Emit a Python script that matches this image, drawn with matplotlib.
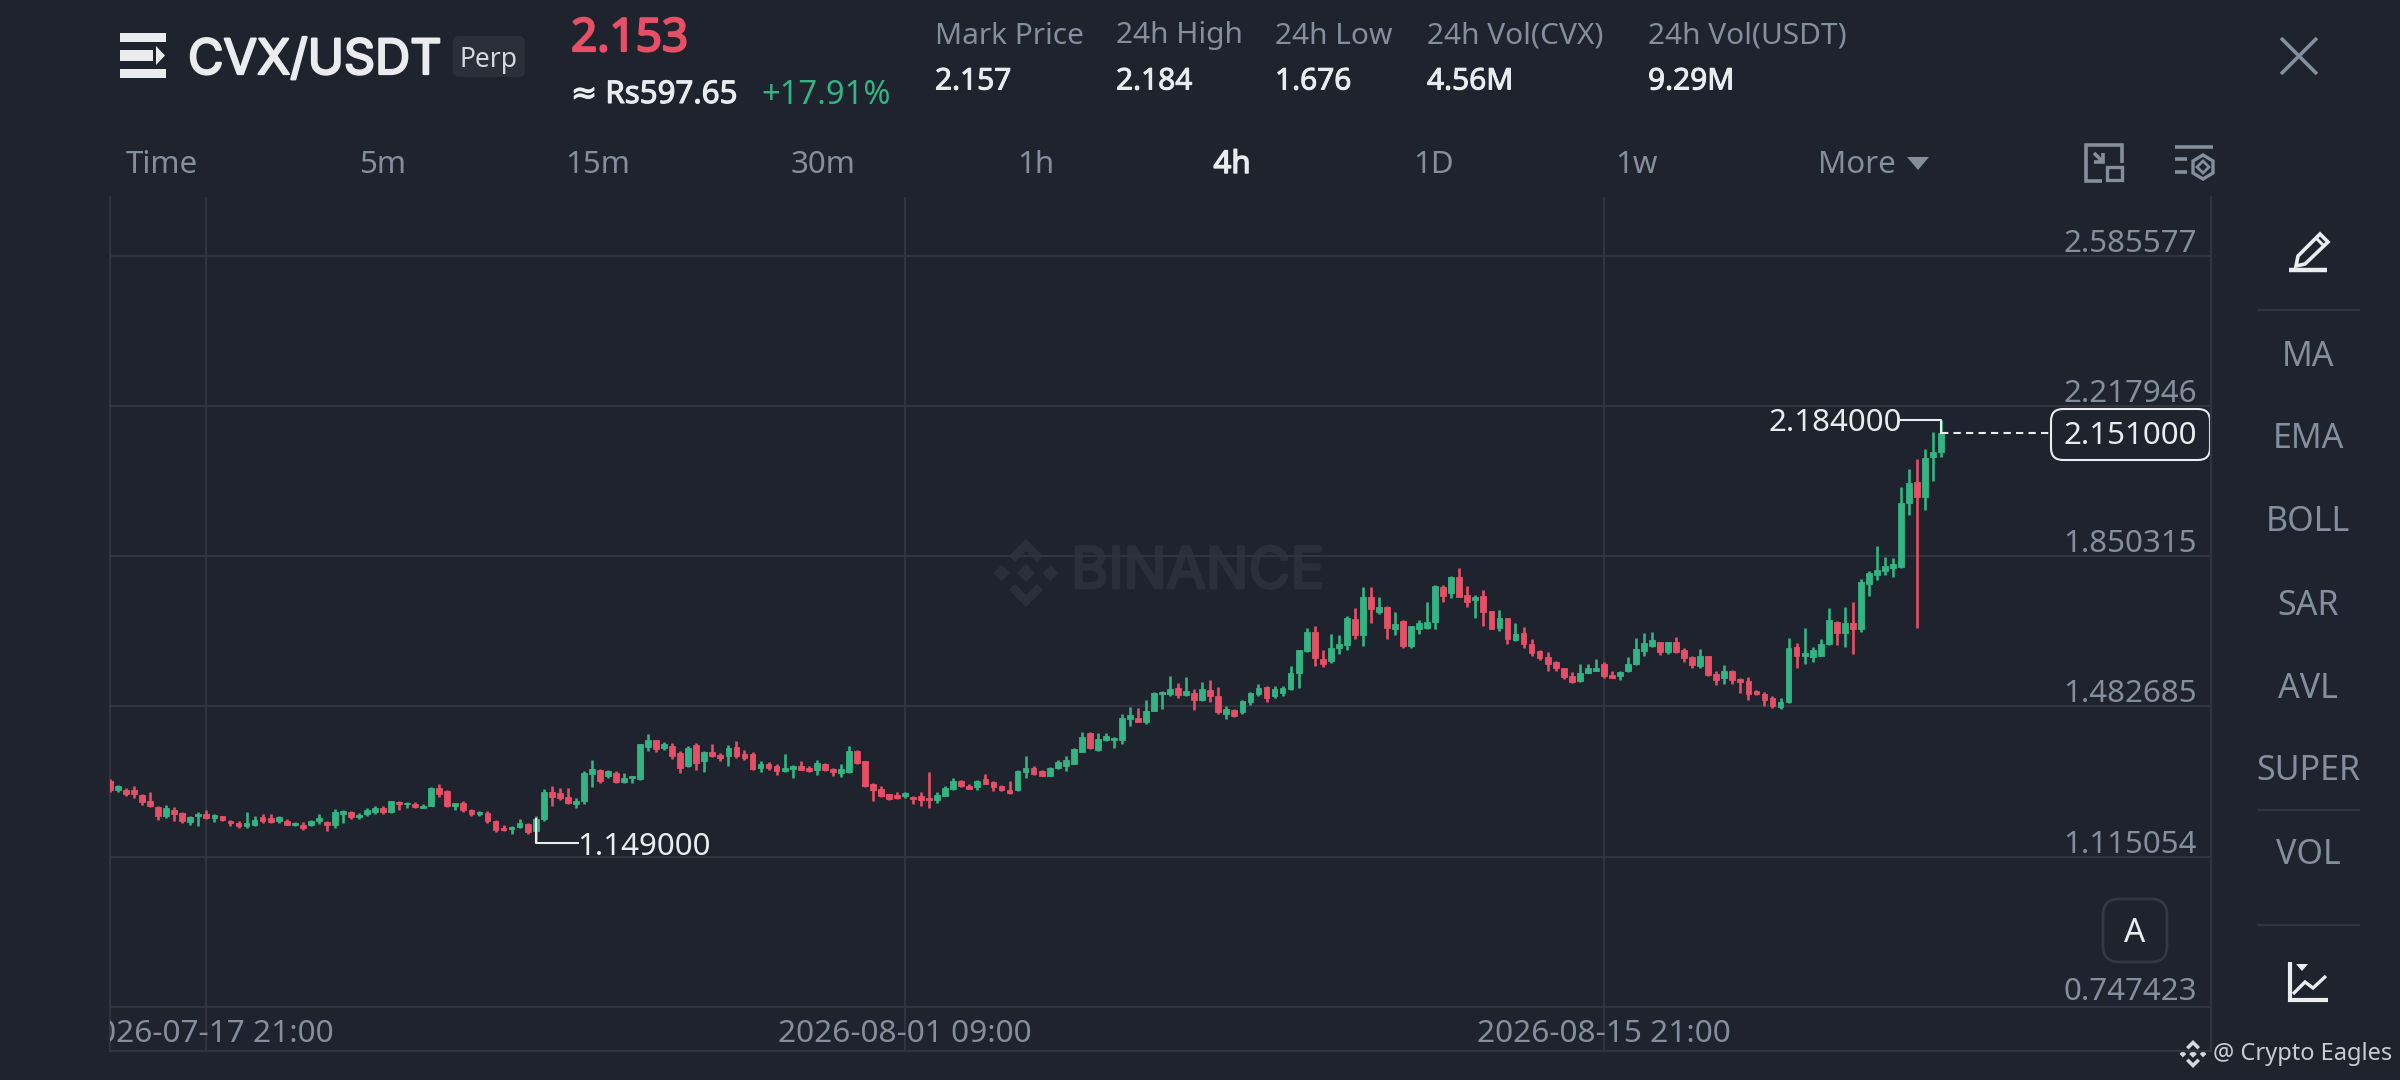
import numpy as np
import matplotlib
matplotlib.use("Agg")
import matplotlib.pyplot as plt
import matplotlib.patheffects as pe
from matplotlib.patches import Rectangle, Polygon, FancyBboxPatch

plt.rcParams['font.family'] = ['Noto Sans', 'DejaVu Sans']

# 4h candles
opens = [1.301,1.278,1.278,1.278,1.266,1.252,1.236,1.213,1.229,1.221,
         1.199,1.213,1.220,1.210,1.213,1.203,1.198,1.189,1.193,1.211,
         1.210,1.203,1.203,1.193,1.191,1.192,1.202,1.200,1.192,1.220,
         1.224,1.211,1.218,1.224,1.234,1.224,1.249,1.243,1.244,1.234,
         1.239,1.283,1.275,1.239,1.246,1.229,1.218,1.221,1.202,1.184,
         1.182,1.187,1.195,1.177,1.207,1.272,1.270,1.261,1.243,1.251,
         1.316,1.327,1.311,1.319,1.298,1.306,1.305,1.383,1.399,1.380,
         1.386,1.368,1.336,1.388,1.350,1.372,1.363,1.362,1.383,1.367,
         1.367,1.331,1.342,1.336,1.324,1.329,1.337,1.331,1.326,1.342,
         1.329,1.319,1.321,1.373,1.349,1.293,1.280,1.267,1.265,1.262,
         1.260,1.262,1.259,1.254,1.264,1.280,1.300,1.288,1.285,1.305,
         1.298,1.287,1.278,1.277,1.321,1.331,1.324,1.311,1.331,1.337,
         1.342,1.372,1.417,1.376,1.399,1.401,1.401,1.452,1.453,1.445,
         1.471,1.512,1.512,1.528,1.510,1.515,1.499,1.522,1.509,1.465,
         1.473,1.468,1.492,1.514,1.530,1.507,1.515,1.524,1.564,1.618,
         1.664,1.599,1.594,1.625,1.633,1.697,1.656,1.751,1.713,1.726,
         1.671,1.692,1.630,1.672,1.675,1.690,1.775,1.759,1.800,1.754,
         1.742,1.752,1.715,1.674,1.700,1.644,1.661,1.636,1.618,1.604,
         1.590,1.577,1.558,1.545,1.564,1.569,1.586,1.559,1.556,1.568,
         1.586,1.618,1.630,1.640,1.615,1.640,1.620,1.604,1.582,1.605,
         1.561,1.551,1.568,1.550,1.545,1.519,1.514,1.502,1.481,1.492,
         1.628,1.605,1.604,1.607,1.635,1.690,1.661,1.687,1.671,1.783,
         1.805,1.813,1.821,1.824,1.981,2.032,1.994,2.092,2.104]
highs = [1.305,1.289,1.283,1.287,1.269,1.274,1.238,1.240,1.236,1.224,
         1.215,1.225,1.229,1.218,1.215,1.205,1.202,1.225,1.213,1.218,
         1.218,1.215,1.208,1.199,1.200,1.205,1.220,1.203,1.232,1.229,
         1.226,1.221,1.233,1.238,1.238,1.252,1.252,1.249,1.249,1.243,
         1.285,1.293,1.278,1.247,1.252,1.232,1.226,1.226,1.205,1.192,
         1.189,1.207,1.198,1.213,1.280,1.287,1.283,1.283,1.259,1.324,
         1.352,1.330,1.327,1.324,1.319,1.313,1.391,1.416,1.401,1.395,
         1.394,1.373,1.385,1.393,1.373,1.390,1.368,1.388,1.398,1.375,
         1.370,1.350,1.347,1.341,1.367,1.339,1.350,1.336,1.352,1.345,
         1.331,1.342,1.386,1.375,1.350,1.296,1.288,1.269,1.274,1.272,
         1.262,1.272,1.321,1.272,1.288,1.308,1.303,1.292,1.303,1.316,
         1.301,1.290,1.301,1.326,1.362,1.337,1.327,1.334,1.352,1.360,
         1.381,1.421,1.421,1.417,1.417,1.407,1.465,1.481,1.478,1.497,
         1.517,1.519,1.556,1.540,1.555,1.525,1.541,1.546,1.530,1.483,
         1.476,1.497,1.517,1.537,1.533,1.532,1.532,1.582,1.621,1.674,
         1.679,1.621,1.659,1.656,1.703,1.724,1.775,1.775,1.749,1.728,
         1.713,1.695,1.680,1.695,1.739,1.780,1.780,1.801,1.821,1.778,
         1.754,1.767,1.716,1.718,1.700,1.687,1.676,1.648,1.620,1.615,
         1.594,1.577,1.566,1.586,1.587,1.599,1.592,1.568,1.569,1.604,
         1.649,1.661,1.664,1.641,1.641,1.653,1.625,1.605,1.622,1.605,
         1.568,1.584,1.571,1.553,1.555,1.523,1.517,1.507,1.504,1.649,
         1.638,1.675,1.628,1.648,1.723,1.692,1.725,1.739,1.795,1.813,
         1.876,1.849,1.845,2.019,2.063,2.089,2.112,2.154,2.184]
lows = [1.273,1.274,1.262,1.259,1.241,1.236,1.205,1.210,1.203,1.198,
        1.193,1.190,1.207,1.200,1.202,1.189,1.185,1.185,1.190,1.198,
        1.198,1.198,1.192,1.189,1.180,1.189,1.195,1.177,1.184,1.197,
        1.207,1.207,1.215,1.220,1.220,1.221,1.229,1.234,1.234,1.233,
        1.238,1.261,1.236,1.228,1.225,1.215,1.215,1.198,1.174,1.177,
        1.171,1.185,1.169,1.149,1.202,1.238,1.254,1.243,1.234,1.243,
        1.285,1.295,1.308,1.295,1.296,1.295,1.303,1.373,1.371,1.375,
        1.354,1.319,1.334,1.327,1.321,1.359,1.350,1.336,1.355,1.352,
        1.326,1.323,1.327,1.314,1.323,1.308,1.326,1.323,1.314,1.324,
        1.313,1.309,1.319,1.342,1.285,1.252,1.260,1.254,1.257,1.259,
        1.243,1.239,1.234,1.246,1.262,1.278,1.285,1.280,1.278,1.292,
        1.275,1.275,1.269,1.275,1.308,1.314,1.311,1.311,1.329,1.324,
        1.341,1.370,1.378,1.373,1.398,1.380,1.391,1.435,1.445,1.440,
        1.470,1.476,1.509,1.502,1.507,1.474,1.496,1.494,1.465,1.452,
        1.457,1.465,1.486,1.509,1.492,1.504,1.507,1.522,1.528,1.615,
        1.581,1.579,1.589,1.610,1.620,1.648,1.631,1.687,1.708,1.648,
        1.657,1.626,1.625,1.659,1.672,1.671,1.739,1.747,1.749,1.726,
        1.698,1.679,1.671,1.667,1.636,1.643,1.626,1.607,1.595,1.568,
        1.568,1.550,1.540,1.543,1.563,1.568,1.553,1.551,1.548,1.566,
        1.584,1.605,1.628,1.609,1.610,1.613,1.592,1.577,1.577,1.556,
        1.535,1.538,1.537,1.515,1.497,1.510,1.484,1.479,1.476,1.491,
        1.577,1.586,1.592,1.605,1.633,1.633,1.628,1.610,1.664,1.752,
        1.791,1.803,1.800,1.821,1.952,1.674,1.962,2.035,2.094]
closes = [1.278,1.287,1.269,1.267,1.248,1.238,1.213,1.234,1.218,1.202,
          1.211,1.220,1.210,1.216,1.205,1.197,1.189,1.197,1.205,1.202,
          1.200,1.211,1.193,1.198,1.184,1.202,1.210,1.193,1.224,1.227,
          1.211,1.216,1.228,1.234,1.223,1.251,1.243,1.247,1.236,1.239,
          1.282,1.269,1.239,1.246,1.229,1.218,1.225,1.203,1.180,1.179,
          1.187,1.197,1.175,1.207,1.272,1.261,1.259,1.247,1.251,1.319,
          1.329,1.301,1.324,1.298,1.308,1.311,1.390,1.399,1.379,1.391,
          1.360,1.332,1.381,1.344,1.371,1.362,1.355,1.380,1.360,1.355,
          1.329,1.342,1.331,1.324,1.332,1.336,1.327,1.324,1.344,1.327,
          1.321,1.329,1.373,1.345,1.288,1.277,1.264,1.256,1.259,1.270,
          1.256,1.254,1.254,1.265,1.283,1.300,1.288,1.280,1.301,1.293,
          1.285,1.277,1.270,1.324,1.331,1.318,1.313,1.332,1.347,1.352,
          1.377,1.408,1.380,1.403,1.411,1.406,1.453,1.461,1.445,1.471,
          1.515,1.517,1.524,1.510,1.520,1.499,1.524,1.509,1.468,1.476,
          1.460,1.496,1.515,1.528,1.504,1.525,1.527,1.564,1.620,1.664,
          1.602,1.586,1.626,1.636,1.700,1.656,1.751,1.721,1.726,1.674,
          1.684,1.630,1.679,1.687,1.690,1.777,1.752,1.800,1.751,1.737,
          1.749,1.713,1.672,1.700,1.648,1.659,1.635,1.613,1.602,1.587,
          1.576,1.555,1.543,1.564,1.576,1.577,1.558,1.553,1.566,1.586,
          1.623,1.638,1.644,1.615,1.640,1.615,1.600,1.584,1.605,1.559,
          1.546,1.569,1.548,1.541,1.512,1.512,1.499,1.484,1.492,1.625,
          1.605,1.613,1.620,1.635,1.693,1.662,1.687,1.672,1.787,1.808,
          1.816,1.826,1.832,1.981,2.030,1.996,2.091,2.104,2.151]

y_ticks = [2.585577, 2.217946, 1.850315, 1.482685, 1.115054, 0.747423]
x_tick_idx = [12, 99, 186]
x_tick_labels = ['2026-07-17 21:00', '2026-08-01 09:00', '2026-08-15 21:00']
high_price, high_idx = 2.184, 228
low_price, low_idx = 1.149, 53
last_price = 2.151

timeframes = ['Time', '5m', '15m', '30m', '1h', '4h', '1D', '1w']
timeframe_x = [162, 383, 598, 823, 1036, 1232, 1434, 1636]
stat_names = ['Mark Price', '24h High', '24h Low', '24h Vol(CVX)', '24h Vol(USDT)']
stat_values = ['2.157', '2.184', '1.676', '4.56M', '9.29M']
stat_x = [935, 1116, 1275, 1427, 1648]
side_names = ['MA', 'EMA', 'BOLL', 'SAR', 'AVL', 'SUPER', 'VOL']
side_y = [354, 436, 519, 603, 686, 768, 852]

BG = '#1e232e'
GRID = '#2f343e'
GREY = '#848e9c'
WHITE = '#eaecef'
GREEN = '#33b482'
RED = '#e64f65'
WM = '#2a2f3a'

W, H = 2400, 1080
fig = plt.figure(figsize=(24, 10.8), dpi=100, facecolor=BG)

# whole-figure layer in pixels for the app chrome
ui = fig.add_axes([0, 0, 1, 1], zorder=0)
ui.set_xlim(0, W)
ui.set_ylim(H, 0)
ui.axis('off')


def txt(x, y, s, size=22.5, color=GREY, ha='left', stroke=0, family=None):
    t = ui.text(x, y + 3, s, fontsize=size, color=color, ha=ha, va='center')
    if family:
        t.set_fontfamily(family)
    if stroke:
        # the text fonts here only come in one weight, so thicken them
        t.set_path_effects([pe.withStroke(linewidth=stroke, foreground=color)])


def seg(xs, ys, color=GREY, lw=2.0):
    ui.plot(xs, ys, color=color, lw=lw, solid_capstyle='butt', solid_joinstyle='miter')


def diamond(cx, cy, r, color):
    ui.add_patch(Polygon([(cx - r, cy), (cx, cy - r), (cx + r, cy), (cx, cy + r)], fc=color, ec='none'))


def binance_logo(cx, cy, r, color):
    diamond(cx, cy, r * 0.27, color)
    diamond(cx - r * 0.72, cy, r * 0.24, color)
    diamond(cx + r * 0.72, cy, r * 0.24, color)
    for s in (-1, 1):
        ui.add_patch(Polygon([(cx, cy + s * r), (cx + r * 0.5, cy + s * r * 0.5), (cx + r * 0.32, cy + s * r * 0.32),
                              (cx, cy + s * r * 0.64), (cx - r * 0.32, cy + s * r * 0.32),
                              (cx - r * 0.5, cy + s * r * 0.5)], fc=color, ec='none'))


# menu icon
ui.add_patch(Rectangle((120, 33), 46, 9, fc=WHITE, ec='none'))
ui.add_patch(Rectangle((120, 50), 33, 11, fc=WHITE, ec='none'))
ui.add_patch(Polygon([(156, 46), (165, 55.5), (156, 65)], fc=WHITE, ec='none'))
ui.add_patch(Rectangle((120, 69), 46, 9, fc=WHITE, ec='none'))

txt(188, 58, 'CVX/USDT', size=35, color=WHITE, stroke=1.6, family=['Inter', 'Noto Sans'])
ui.add_patch(FancyBboxPatch((458, 41), 62, 31, boxstyle='round,pad=5,rounding_size=6', fc='#2a2f39', ec='none'))
txt(489, 57, 'Perp', size=19, color='#d5d8dd', ha='center')

txt(571, 36, '2.153', size=33, color=RED, stroke=1.6)
txt(571, 92, '≈ Rs597.65', size=22.5, color=WHITE, stroke=0.8)
txt(761, 92, '+17.91%', size=23.5, color=GREEN)

for x, name, value in zip(stat_x, stat_names, stat_values):
    txt(x, 33, name, size=21.5)
    txt(x, 79, value, size=21.5, color=WHITE, stroke=0.7)

# close button
seg([2281, 2317], [38, 74], lw=2.6)
seg([2281, 2317], [74, 38], lw=2.6)

for x, name in zip(timeframe_x, timeframes):
    if name == '4h':
        txt(x, 162, name, color=WHITE, ha='center', stroke=1.0)
    else:
        txt(x, 162, name, ha='center')
txt(1818, 162, 'More')
ui.add_patch(Polygon([(1907, 157), (1929, 157), (1918, 170)], fc=GREY, ec='none'))

# toolbar icons
seg([2122, 2122, 2086, 2086, 2102], [163, 145, 145, 181, 181], lw=2.6)
ui.add_patch(Rectangle((2107, 167), 15, 13, fc='none', ec=GREY, lw=2.4))
seg([2094, 2103], [153, 162], lw=2.6)
seg([2094, 2103, 2103], [162, 162, 153], lw=2.6)
seg([2175, 2213], [147, 147], lw=2.6)
seg([2175, 2187], [159, 159], lw=2.6)
seg([2175, 2187], [172, 172], lw=2.6)
ui.add_patch(Polygon([(2203, 155), (2213, 161), (2213, 173), (2203, 179), (2193, 173), (2193, 161)],
                     fc='none', ec=GREY, lw=2.4))
ui.add_patch(Polygon([(2203, 161), (2209, 167), (2203, 173), (2197, 167)], fc='none', ec=GREY, lw=2.0))

# pencil
ui.add_patch(Polygon([(2296, 266), (2298, 256), (2320, 234), (2328, 242), (2305, 264)], fc='none', ec=WHITE, lw=2.6))
seg([2316, 2324], [238, 246], color=WHITE, lw=2.2)
seg([2289, 2327], [270, 270], color=WHITE, lw=3.2)

for y in [310, 810, 925]:
    seg([2257, 2360], [y, y], color=GRID, lw=1.6)
for y, name in zip(side_y, side_names):
    txt(2308, y, name, size=24.5, ha='center')

# chart-type icon
seg([2290, 2290, 2328], [962, 1000, 1000], color=WHITE, lw=3)
seg([2293, 2305, 2313, 2326], [994, 982, 988, 976], color=WHITE, lw=2.4)
ui.add_patch(Polygon([(2296, 964), (2308, 964), (2302, 971)], fc=WHITE, ec='none'))

# auto-scale button
ui.add_patch(FancyBboxPatch((2115, 911), 40, 39, boxstyle='round,pad=12,rounding_size=16', fc='none', ec='#323844', lw=2))
txt(2135, 930, 'A', size=24, color=WHITE, ha='center')

# watermarks
binance_logo(1026, 573, 34, WM)
txt(1071, 570, 'BINANCE', size=41, color=WM, stroke=2.0, family=['Inter', 'Noto Sans'])
binance_logo(2193, 1054, 14, '#d5d8dd')
txt(2213, 1051, '@ Crypto Eagles', size=17, color='#c9ccd1')

# chart
left, right, top, bottom = 110, 2211, 197, 1051
ax = fig.add_axes([left / W, 1 - bottom / H, (right - left) / W, (bottom - top) / H], zorder=1)
ax.patch.set_alpha(0)
ax.set_xlim(0, 261.6)
ax.set_ylim(0.6391, 2.7291)
ax.set_xticks([])
ax.set_yticks([])
ax.spines['top'].set_visible(False)
for name in ['left', 'right', 'bottom']:
    ax.spines[name].set_color(GRID)
    ax.spines[name].set_linewidth(1.6)

for v in y_ticks:
    ax.axhline(v, color=GRID, lw=1.6, zorder=1)
    ax.annotate('%.6f' % v, xy=(1, v), xycoords=ax.get_yaxis_transform(), xytext=(-14, 15 if v == y_ticks[-1] else 12),
                textcoords='offset pixels', ha='right', va='center', fontsize=22.5, color=GREY)
for i, label in zip(x_tick_idx, x_tick_labels):
    ax.axvline(i, color=GRID, lw=1.6, zorder=1)
    ax.text(i, 0.6391 + 17 / 408.6, label, ha='center', va='center', fontsize=22.8, color=GREY, clip_on=True)

o = np.array(opens)
c = np.array(closes)
idx = np.arange(len(o))
colors = [GREEN if up else RED for up in c >= o]
ax.vlines(idx, lows, highs, colors=colors, lw=1.9, zorder=3)
ax.bar(idx, np.abs(c - o), bottom=np.minimum(o, c), width=0.72, color=colors, edgecolor=colors, lw=0.6, zorder=3)

# high / low / last markers
ax.plot([high_idx - 5.2, high_idx, high_idx], [high_price, high_price, closes[-1]], color=WHITE, lw=1.5, zorder=4)
ax.annotate('%.6f' % high_price, xy=(high_idx - 5.4, high_price), xytext=(4, -3), textcoords='offset pixels',
            ha='right', va='center', fontsize=22.5, color=WHITE, zorder=5)
ax.plot([low_idx, low_idx, low_idx + 5.3], [closes[low_idx], low_price, low_price], color=WHITE, lw=1.5, zorder=4)
ax.annotate('%.6f' % low_price, xy=(low_idx + 5.6, low_price), xytext=(-3, -4), textcoords='offset pixels',
            ha='left', va='center', fontsize=22.5, color=WHITE, zorder=5)
ax.plot([high_idx, 241.5], [last_price, last_price], color=WHITE, lw=1.5, ls=(0, (3.5, 2.5)), zorder=4)
ax.annotate('%.6f' % last_price, xy=(1 - 81 / (right - left), last_price), xycoords=ax.get_yaxis_transform(),
            xytext=(0, -3), textcoords='offset pixels', ha='center', va='center', fontsize=22.5, color=WHITE, zorder=5)
ui.add_patch(FancyBboxPatch((2063, 421), 135, 27, boxstyle='round,pad=12,rounding_size=12', fc=BG, ec=WHITE, lw=1.5))

fig.savefig('out.png', dpi=100, facecolor=BG)
